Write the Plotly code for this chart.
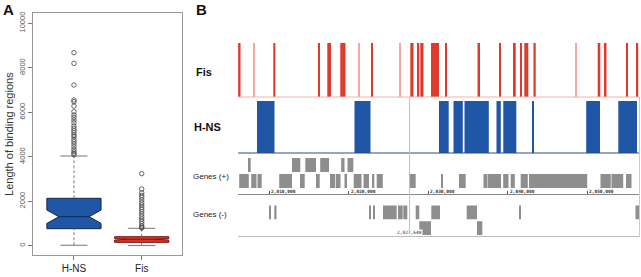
import plotly.graph_objects as go

# ---------------- Panel A data (box plot stats) ----------------
BOX_CATEGORIES = ["H-NS", "Fis"]
BOX_Q1 = [764, 150]
BOX_MEDIAN = [1303, 287]
BOX_Q3 = [2130, 405]
BOX_LOWER = [20, 5]
BOX_UPPER = [4030, 782]
BOX_NOTCH = [300, 35]
BOX_FILL = ["#1f56a6", "#d8342c"]
BOX_LINE = ["#16274f", "#7a1712"]

HNS_OUTLIERS = [8674, 8195, 7221, 6547, 6472, 6277, 6022, 5873, 5768, 5648, 5528,
                5378, 5273, 5169, 5079, 4974, 4899, 4779, 4674, 4569, 4449, 4330,
                4225, 4150, 4090]
FIS_OUTLIERS = [3237, 2548, 2383, 2264, 2174, 2054, 1934, 1829, 1724, 1634, 1529,
                1424, 1304, 1200, 1095, 990, 885, 830, 795]

Y_TICKS_A = [0, 2000, 4000, 6000, 8000, 10000]

# ---------------- Panel B data (genomic intervals) ----------------
GENOME_RANGE = [2006062, 2056571]
GENOME_TICKS = [2010000, 2020000, 2030000, 2040000, 2050000]
GENOME_TICK_LABELS = ["2,010,000", "2,020,000", "2,030,000", "2,040,000", "2,050,000"]
CURSOR_POS = 2027648
CURSOR_LABEL = "2,027,648"

FIS_STARTS = [2006080, 2010503, 2016126, 2017296, 2018932, 2022830, 2027738, 2028669,
              2028996, 2030342, 2032141, 2036192, 2038959, 2040657, 2041601, 2042079,
              2043236, 2051313, 2052105, 2054873, 2056194]
FIS_ENDS = [2006380, 2010755, 2016290, 2017762, 2019586, 2022960, 2028140, 2028870,
            2029398, 2031348, 2032355, 2036506, 2039110, 2040997, 2041752, 2042582,
            2043513, 2051640, 2052420, 2055124, 2056408]
FIS_FAINT_STARTS = [2008050, 2021260, 2026440, 2048480]
FIS_FAINT_ENDS = [2008180, 2021390, 2026570, 2048610]

HNS_STARTS = [2008453, 2020718, 2031348, 2033172, 2034556, 2038582, 2039437, 2043073,
              2049866, 2053904]
HNS_ENDS = [2010654, 2022731, 2032569, 2034342, 2037613, 2039123, 2041073, 2043200,
            2051602, 2056257]

GENES_PLUS_UPPER_STARTS = [2007421, 2012856, 2014529, 2016403, 2019045, 2019838]
GENES_PLUS_UPPER_ENDS = [2007660, 2013900, 2015875, 2017510, 2019460, 2020567]
GENES_PLUS_LOWER_STARTS = [2006213, 2007723, 2008516, 2011245, 2013862, 2015875, 2017636,
                           2018353, 2019460, 2020618, 2021850, 2022983, 2023511, 2027574,
                           2031600, 2033864, 2036946, 2037475, 2039425, 2040368, 2041626,
                           2042733, 2042922, 2051665, 2053049, 2054873]
GENES_PLUS_LOWER_ENDS = [2007421, 2008390, 2009044, 2012856, 2014453, 2016340, 2018265,
                         2018957, 2019775, 2021599, 2022542, 2023209, 2024278, 2028417,
                         2031760, 2034707, 2037424, 2039148, 2040091, 2040884, 2042519,
                         2042884, 2049992, 2052961, 2054521, 2055565]
GENES_MINUS_UPPER_STARTS = [2009987, 2010629, 2022605, 2023083, 2024303, 2026190, 2026857,
                            2028417, 2030380, 2034833, 2041437, 2056068]
GENES_MINUS_UPPER_ENDS = [2010189, 2010906, 2022730, 2023209, 2026027, 2026782, 2027360,
                          2028870, 2031474, 2036129, 2041560, 2056508]
GENES_MINUS_LOWER_STARTS = [2028870, 2036129]
GENES_MINUS_LOWER_ENDS = [2030342, 2036795]

TRACK_LABELS = ["Fis", "H-NS", "Genes (+)", "Genes (-)"]

# ---------------- Figure ----------------
W, H = 641, 277
FONT = "Liberation Sans, Arial, Helvetica, sans-serif"


def py(px):
    return 1 - px / H


def pxx(px):
    return px / W


fig = go.Figure()

# Panel A: whiskers (dashed) and staples
for i, cat in enumerate(BOX_CATEGORIES):
    for lo, hi in ((BOX_Q3[i], BOX_UPPER[i]), (BOX_LOWER[i], BOX_Q1[i])):
        fig.add_trace(go.Scatter(x=[i, i], y=[lo, hi], mode="lines",
                                 line=dict(color="#777777", width=1, dash="3px,2px"),
                                 xaxis="x", yaxis="y", showlegend=False, hoverinfo="skip"))
    for v in (BOX_UPPER[i], BOX_LOWER[i]):
        fig.add_trace(go.Scatter(x=[i - 0.2, i + 0.2], y=[v, v], mode="lines",
                                 line=dict(color="#777777", width=1),
                                 xaxis="x", yaxis="y", showlegend=False, hoverinfo="skip"))
    fig.add_trace(go.Box(x=[i], q1=[BOX_Q1[i]], median=[BOX_MEDIAN[i]], q3=[BOX_Q3[i]],
                         lowerfence=[BOX_Q1[i]], upperfence=[BOX_Q3[i]],
                         notchspan=[BOX_NOTCH[i]], notched=True, notchwidth=0.22,
                         width=0.8, whiskerwidth=0,
                         fillcolor=BOX_FILL[i], line=dict(color=BOX_LINE[i], width=1),
                         boxpoints=False, xaxis="x", yaxis="y", showlegend=False,
                         hoverinfo="skip"))

for i, outs in enumerate((HNS_OUTLIERS, FIS_OUTLIERS)):
    fig.add_trace(go.Scatter(x=[i] * len(outs), y=outs, mode="markers",
                             marker=dict(symbol="circle-open", size=4.5,
                                         color="#444444", line=dict(width=0.8)),
                             xaxis="x", yaxis="y", showlegend=False, hoverinfo="skip"))

# Panel B: tracks


def add_intervals(starts, ends, color, yaxis, row=0, width=1.0):
    fig.add_trace(go.Bar(orientation="h", y=[row] * len(starts),
                         x=[e - s for s, e in zip(starts, ends)], base=starts,
                         width=width, marker=dict(color=color, line=dict(width=0)),
                         xaxis="x2", yaxis=yaxis, showlegend=False, hoverinfo="skip"))


add_intervals(FIS_FAINT_STARTS, FIS_FAINT_ENDS, "#f0a8a2", "y2")
add_intervals(FIS_STARTS, FIS_ENDS, "#e0392e", "y2")
add_intervals(HNS_STARTS, HNS_ENDS, "#1f56a6", "y3")
add_intervals(GENES_PLUS_UPPER_STARTS, GENES_PLUS_UPPER_ENDS, "#8e8e8e", "y4", row=1, width=0.875)
add_intervals(GENES_PLUS_LOWER_STARTS, GENES_PLUS_LOWER_ENDS, "#8e8e8e", "y4", row=0, width=0.875)
add_intervals(GENES_MINUS_UPPER_STARTS, GENES_MINUS_UPPER_ENDS, "#8e8e8e", "y5", row=1, width=0.87)
add_intervals(GENES_MINUS_LOWER_STARTS, GENES_MINUS_LOWER_ENDS, "#8e8e8e", "y5", row=0, width=0.87)

B_X0, B_X1 = pxx(238), pxx(639.5)

hidden_y = dict(visible=False, fixedrange=True)

fig.update_layout(
    width=W, height=H, margin=dict(l=0, r=0, t=0, b=0),
    template="none", paper_bgcolor="white", plot_bgcolor="rgba(0,0,0,0)",
    barmode="overlay", showlegend=False,
    font=dict(family=FONT),
    xaxis=dict(domain=[pxx(33.3), pxx(181.7)], range=[-0.6, 1.59], anchor="y",
               tickvals=[0, 1], ticktext=BOX_CATEGORIES, ticks="outside", ticklen=4,
               tickcolor="#777777", tickfont=dict(size=10, color="#222222"),
               showline=True, mirror=True, linecolor="#999999", linewidth=1,
               showgrid=False, zeroline=False, automargin=False),
    yaxis=dict(domain=[py(255), py(13.3)], range=[-418, 10445], anchor="x",
               tickvals=Y_TICKS_A, ticktext=[str(v) for v in Y_TICKS_A],
               ticks="outside", ticklen=4, tickcolor="#777777",
               tickangle=-90, tickfont=dict(size=7.5, color="#555555"),
               showline=True, mirror=True, linecolor="#999999", linewidth=1,
               showgrid=False, zeroline=False, automargin=False,
               title=dict(text="Length of binding regions", standoff=2,
                          font=dict(size=11, color="#333333"))),
    xaxis2=dict(domain=[B_X0, B_X1], range=GENOME_RANGE, anchor="free",
                position=py(194), showline=True, linecolor="#888888", linewidth=1,
                tickvals=GENOME_TICKS, ticks="inside", ticklen=3, tickcolor="#555555",
                showticklabels=False, showgrid=False, zeroline=False, automargin=False),
    yaxis2=dict(domain=[py(97), py(43)], range=[-0.5, 0.5], anchor="x2", **hidden_y),
    yaxis3=dict(domain=[py(153), py(101)], range=[-0.5, 0.5], anchor="x2", **hidden_y),
    yaxis4=dict(domain=[py(189), py(157)], range=[-0.5, 1.5], anchor="x2", **hidden_y),
    yaxis5=dict(domain=[py(236), py(204.5)], range=[-0.5, 1.5], anchor="x2", **hidden_y),
)

# frame / guide lines for panel B
shapes = [
    dict(type="line", xref="paper", yref="paper", x0=B_X0, x1=B_X1, y0=py(97), y1=py(97),
         line=dict(color="#f3b3ae", width=1)),
    dict(type="line", xref="paper", yref="paper", x0=B_X0, x1=B_X1, y0=py(153), y1=py(153),
         line=dict(color="#2b4a86", width=1)),
    dict(type="line", xref="paper", yref="paper", x0=B_X0, x1=B_X1, y0=py(236.5), y1=py(236.5),
         line=dict(color="#bbbbbb", width=1)),
    dict(type="line", xref="paper", yref="paper", x0=B_X1, x1=B_X1, y0=py(236.5), y1=py(97),
         line=dict(color="#cccccc", width=1)),
    dict(type="line", xref="x2", yref="paper", x0=CURSOR_POS, x1=CURSOR_POS,
         y0=py(236.5), y1=py(97), line=dict(color="#c0c0c0", width=1)),
]
fig.update_layout(shapes=shapes)

annotations = [
    dict(text="<b>A</b>", x=pxx(1), y=py(10), xref="paper", yref="paper",
         xanchor="left", yanchor="middle", showarrow=False, font=dict(size=15, color="#111111")),
    dict(text="<b>B</b>", x=pxx(194), y=py(10), xref="paper", yref="paper",
         xanchor="left", yanchor="middle", showarrow=False, font=dict(size=15, color="#111111")),
    dict(text="<b>" + TRACK_LABELS[0] + "</b>", x=pxx(194), y=py(72.5), xref="paper", yref="paper",
         xanchor="left", yanchor="middle", showarrow=False, font=dict(size=11, color="#111111")),
    dict(text="<b>" + TRACK_LABELS[1] + "</b>", x=pxx(192), y=py(127), xref="paper", yref="paper",
         xanchor="left", yanchor="middle", showarrow=False, font=dict(size=11, color="#111111")),
    dict(text=TRACK_LABELS[2], x=pxx(191), y=py(176), xref="paper", yref="paper",
         xanchor="left", yanchor="middle", showarrow=False, font=dict(size=8, color="#222222")),
    dict(text=TRACK_LABELS[3], x=pxx(191), y=py(214), xref="paper", yref="paper",
         xanchor="left", yanchor="middle", showarrow=False, font=dict(size=8, color="#222222")),
    dict(text=CURSOR_LABEL, x=CURSOR_POS, y=py(232), xref="x2", yref="paper",
         xanchor="center", yanchor="middle", showarrow=False, bgcolor="white",
         borderpad=0, font=dict(size=4.5, color="#333333", family="DejaVu Sans Mono")),
]
for tv, tl in zip(GENOME_TICKS, GENOME_TICK_LABELS):
    annotations.append(dict(text="<b>" + tl + "</b>", x=tv, y=py(191.3), xref="x2", yref="paper",
                            xanchor="left", yanchor="middle", showarrow=False,
                            font=dict(size=4.5, color="#333333", family="DejaVu Sans Mono")))
fig.update_layout(annotations=annotations)

fig.write_html("out.html", config={"displayModeBar": False},
               post_script="document.body.style.margin='0';document.body.style.padding='0';"
                           "document.documentElement.style.overflow='hidden';")
